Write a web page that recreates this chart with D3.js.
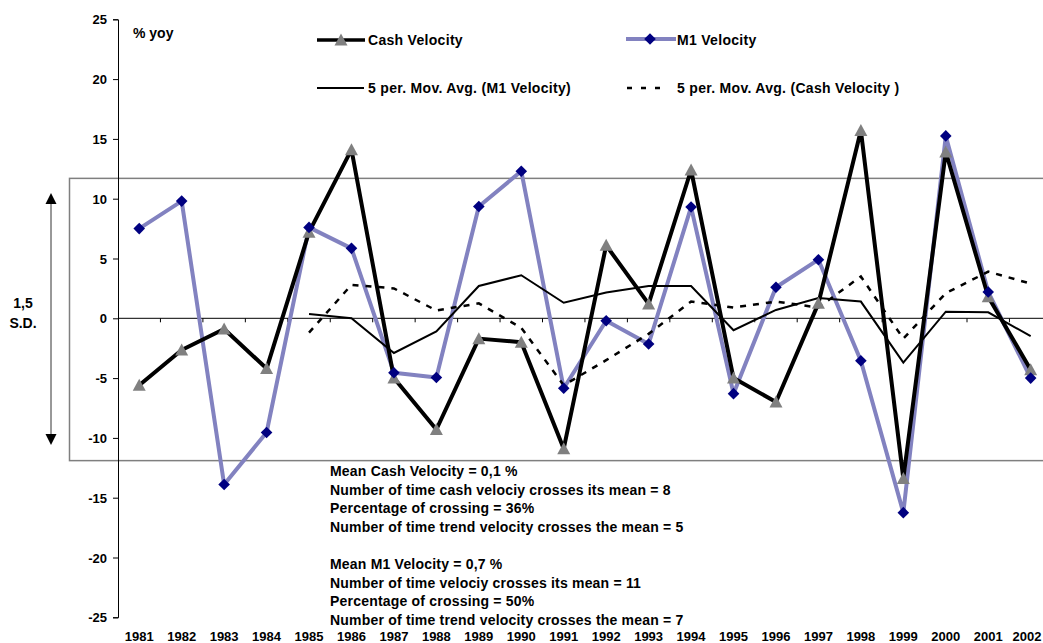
<!DOCTYPE html>
<html>
<head>
<meta charset="utf-8">
<style>
  body { margin: 0; background: #fff; }
  svg text { font-family: "Liberation Sans", Arial, sans-serif; font-weight: bold; fill: #000; }
</style>
<script src="https://d3js.org/d3.v7.min.js"></script>
</head>
<body>
<script>
const years = ["1981","1982","1983","1984","1985","1986","1987","1988","1989","1990","1991",
               "1992","1993","1994","1995","1996","1997","1998","1999","2000","2001","2002"];
const cashVelocity = [-5.6,-2.65,-0.9,-4.2,7.2,14.1,-5.0,-9.3,-1.7,-2.0,-10.9,
                      6.1,1.2,12.4,-5.0,-7.0,1.25,15.7,-13.4,13.9,1.8,-4.3];
const m1Velocity = [7.5,9.8,-13.9,-9.55,7.6,5.85,-4.55,-4.95,9.35,12.3,-5.85,
                    -0.2,-2.15,9.3,-6.3,2.6,4.9,-3.55,-16.25,15.25,2.2,-5.0];
// moving averages start in 1985
const m1MovAvg = [null,null,null,null,0.35,0.0,-2.9,-1.1,2.7,3.6,1.3,
                  2.15,2.7,2.7,-1.0,0.7,1.7,1.4,-3.7,0.55,0.5,-1.5];
const cashMovAvg = [null,null,null,null,-1.2,2.8,2.5,0.65,1.25,-0.8,-5.6,
                    -3.5,-1.3,1.4,0.9,1.4,0.9,3.5,-1.7,2.1,3.9,2.9];
const yTicks = [-25,-20,-15,-10,-5,0,5,10,15,20,25];
const sdBand = [-11.9, 11.7];
const notes = [
  "Mean Cash Velocity = 0,1 %",
  "Number of time cash velociy crosses its mean = 8",
  "Percentage of crossing = 36%",
  "Number of time trend velocity crosses the mean = 5",
  "",
  "Mean M1 Velocity = 0,7 %",
  "Number of time velociy crosses its mean = 11",
  "Percentage of crossing = 50%",
  "Number of time trend velocity crosses the mean = 7"
];

const W = 1043, H = 643;
const svg = d3.select("body").append("svg").attr("width", W).attr("height", H);

const x = d3.scaleBand().domain(years).range([118, 118 + 22 * 42.45]).padding(0);
const cx = d => x(d) + x.bandwidth() / 2;
const y = d3.scaleLinear().domain([-25, 25]).range([617.3, 19.3]);

// 1.5 S.D. box
svg.append("rect")
  .attr("x", 69.5).attr("y", y(sdBand[1]))
  .attr("width", W).attr("height", y(sdBand[0]) - y(sdBand[1]))
  .attr("fill", "none").attr("stroke", "#7f7f7f").attr("stroke-width", 1.5);

// arrow
svg.append("line")
  .attr("x1", 51).attr("x2", 51).attr("y1", 200).attr("y2", 438)
  .attr("stroke", "#333").attr("stroke-width", 1);
svg.append("path").attr("d", "M51,193L56.5,204L45.5,204Z").attr("fill", "#000");
svg.append("path").attr("d", "M51,445L56.5,434L45.5,434Z").attr("fill", "#000");
svg.append("text").attr("x", 23).attr("y", 308).attr("text-anchor", "middle")
  .attr("font-size", 14).text("1,5");
svg.append("text").attr("x", 23).attr("y", 328).attr("text-anchor", "middle")
  .attr("font-size", 14).text("S.D.");

// y axis
const yAxis = d3.axisLeft(y).tickValues(yTicks).tickFormat(d => String(d)).tickSize(5).tickPadding(6);
const gy = svg.append("g").attr("transform", "translate(118,0)").call(yAxis);
gy.attr("font-family", null).attr("font-size", null);
gy.select(".domain").attr("stroke", "#000");
gy.selectAll("text").attr("font-size", 13).attr("dy", "0.36em");

// zero line with category ticks
svg.append("line").attr("x1", 118).attr("x2", W).attr("y1", y(0)).attr("y2", y(0))
  .attr("stroke", "#000").attr("stroke-width", 1);
svg.append("g").selectAll("line").data(years.slice(1))
  .join("line")
  .attr("x1", d => x(d)).attr("x2", d => x(d))
  .attr("y1", y(0)).attr("y2", y(0) + 4)
  .attr("stroke", "#000");

// x labels at bottom (last one kept inside the page)
svg.append("g").selectAll("text").data(years).join("text")
  .attr("x", d => Math.min(cx(d), W - 16)).attr("y", 641).attr("text-anchor", "middle")
  .attr("font-size", 13).text(d => d);

svg.append("text").attr("x", 133).attr("y", 38).attr("font-size", 14).text("% yoy");

// lines
const line = d3.line().defined(d => d[1] !== null).x(d => cx(d[0])).y(d => y(d[1]));
const pairs = arr => years.map((yr, i) => [yr, arr[i]]);

svg.append("path").datum(pairs(m1Velocity)).attr("d", line)
  .attr("fill", "none").attr("stroke", "#8282c0").attr("stroke-width", 4)
  .attr("stroke-linejoin", "round");
svg.append("path").datum(pairs(cashVelocity)).attr("d", line)
  .attr("fill", "none").attr("stroke", "#000").attr("stroke-width", 4)
  .attr("stroke-linejoin", "round");
svg.append("path").datum(pairs(m1MovAvg)).attr("d", line)
  .attr("fill", "none").attr("stroke", "#000").attr("stroke-width", 2);
svg.append("path").datum(pairs(cashMovAvg)).attr("d", line)
  .attr("fill", "none").attr("stroke", "#000").attr("stroke-width", 2.5)
  .attr("stroke-dasharray", "6,7");

const tri = "M0,-6.5L6.5,5.5L-6.5,5.5Z";
const dia = "M0,-5.8L5.8,0L0,5.8L-5.8,0Z";
svg.append("g").selectAll("path").data(pairs(cashVelocity)).join("path")
  .attr("transform", d => `translate(${cx(d[0])},${y(d[1])})`)
  .attr("d", tri).attr("fill", "#808080");
svg.append("g").selectAll("path").data(pairs(m1Velocity)).join("path")
  .attr("transform", d => `translate(${cx(d[0])},${y(d[1])})`)
  .attr("d", dia).attr("fill", "#000080");

// legend
const lg = svg.append("g").attr("letter-spacing", 0.3);
lg.append("line").attr("x1", 317).attr("x2", 365).attr("y1", 40).attr("y2", 40)
  .attr("stroke", "#000").attr("stroke-width", 3.5);
lg.append("path").attr("transform", "translate(341,40)").attr("d", tri).attr("fill", "#808080");
lg.append("text").attr("x", 368).attr("y", 45).attr("font-size", 14).text("Cash Velocity");

lg.append("line").attr("x1", 626).attr("x2", 676).attr("y1", 39).attr("y2", 39)
  .attr("stroke", "#8282c0").attr("stroke-width", 4);
lg.append("path").attr("transform", "translate(650,39)").attr("d", dia).attr("fill", "#000080");
lg.append("text").attr("x", 677).attr("y", 45).attr("font-size", 14).text("M1 Velocity");

lg.append("line").attr("x1", 317).attr("x2", 364).attr("y1", 88).attr("y2", 88)
  .attr("stroke", "#000").attr("stroke-width", 2);
lg.append("text").attr("x", 368).attr("y", 93).attr("font-size", 14)
  .text("5 per. Mov. Avg. (M1 Velocity)");
lg.append("line").attr("x1", 627).attr("x2", 667).attr("y1", 88).attr("y2", 88)
  .attr("stroke", "#000").attr("stroke-width", 2.5).attr("stroke-dasharray", "5,9");
lg.append("text").attr("x", 677).attr("y", 93).attr("font-size", 14)
  .text("5 per. Mov. Avg. (Cash Velocity )");

// notes
svg.append("g").attr("letter-spacing", 0.2).selectAll("text").data(notes).join("text")
  .attr("x", 330).attr("y", (d, i) => 476 + i * 18.6)
  .attr("font-size", 14).text(d => d);
</script>
</body>
</html>
